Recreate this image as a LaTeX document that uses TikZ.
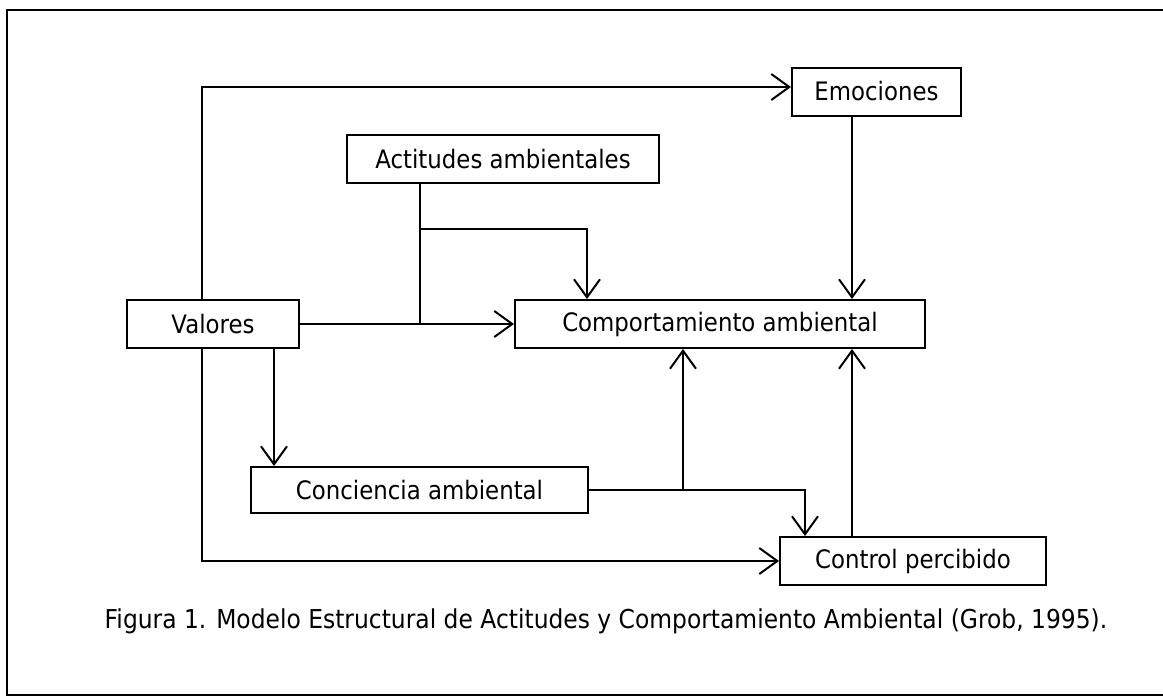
\documentclass[tikz,border=0pt]{standalone}
\usepackage{fontspec}
\setmainfont{DejaVu Sans}[FakeStretch=0.9]
\usetikzlibrary{arrows.meta}

\begin{document}
\begin{tikzpicture}[x=0.5pt,y=-0.5pt,line width=1pt,
  font=\fontsize{12.7pt}{15pt}\selectfont,
  box/.style={draw,rectangle,inner sep=0pt,minimum height=24pt},
  arr/.style={-{Straight Barb[length=9pt,width=13pt,line width=1pt]}}]
\useasboundingbox (0,0) rectangle (1163,697);
\draw (1163,10) -- (7,10) -- (7,695) -- (1163,695);
\node [box,minimum width=86pt] (val) at (213,324) {Valores};
\node [box,minimum width=84.5pt] (emo) at (876.5,91.5) {Emociones};
\node [box,minimum width=156pt] (act) at (503,159) {Actitudes ambientales};
\node [box,minimum width=205pt] (comp) at (720,324) {Comportamiento ambiental};
\node [box,minimum width=168.5pt,minimum height=23pt] (conc) at (419.5,490) {Conciencia ambiental};
\node [box,minimum width=133pt] (ctrl) at (913,561) {Control percibido};
\node [font=\fontsize{13pt}{15pt}\selectfont] (cap) at (606,621) {Figura 1. Modelo Estructural de Actitudes y Comportamiento Ambiental (Grob, 1995).};
\coordinate (vtop) at (202,87);
\coordinate (ja) at (420,229);
\coordinate (jc) at (683,490);
\coordinate (right) at (852,0);
\draw [arr] (val.north -| vtop) |- (emo.west |- vtop);
\draw [arr] (emo.south -| right) -- (comp.north -| right);
\draw (act.south -| ja) -- (ja |- val.east);
\draw [arr] (ja) -| (comp.north -| 587,0);
\draw [arr] (val.east) -- (comp.west);
\draw [arr] (val.south -| 274,0) -- (conc.north -| 274,0);
\draw [arr] (val.south -| vtop) |- (ctrl.west);
\draw (conc.east) -- (jc);
\draw [arr] (jc) -- (comp.south -| jc);
\draw [arr] (jc) -| (ctrl.north -| 805,0);
\draw [arr] (ctrl.north -| right) -- (comp.south -| right);
\end{tikzpicture}
\end{document}
